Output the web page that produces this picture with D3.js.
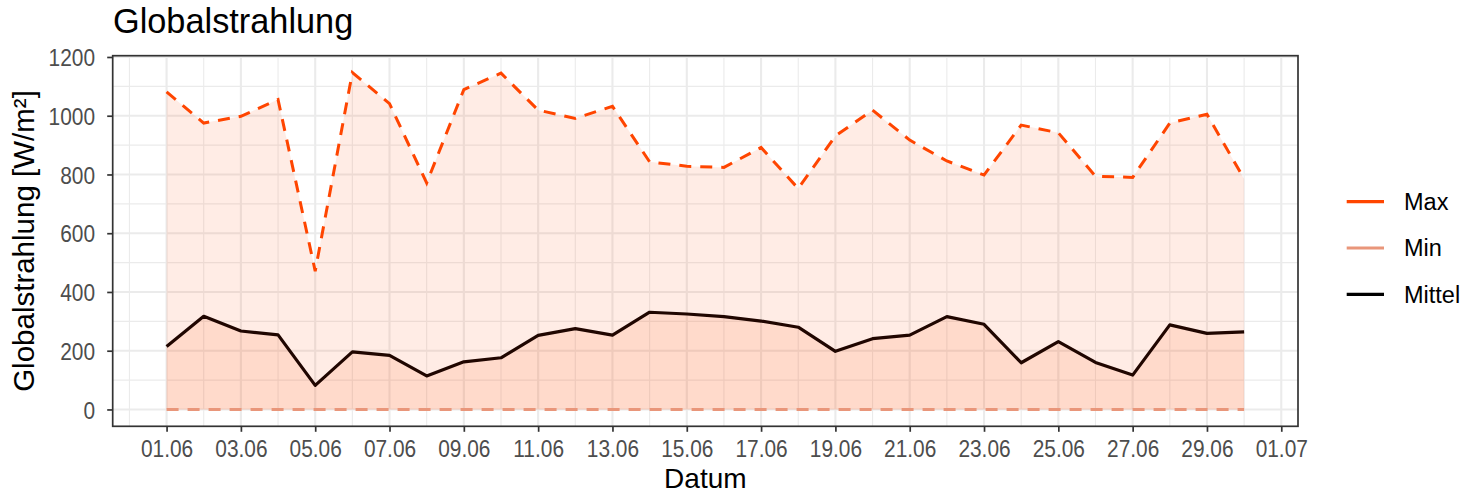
<!DOCTYPE html>
<html>
<head>
<meta charset="utf-8">
<script src="https://cdn.jsdelivr.net/npm/d3@7"></script>
<style>
  body { margin: 0; background: #fff; }
  text { font-family: "Liberation Sans", Arial, sans-serif; }
</style>
</head>
<body>
<script>
// data (June, daily values in W/m²)
var dates = ["2021-06-01", "2021-06-02", "2021-06-03", "2021-06-04", "2021-06-05",
             "2021-06-06", "2021-06-07", "2021-06-08", "2021-06-09", "2021-06-10",
             "2021-06-11", "2021-06-12", "2021-06-13", "2021-06-14", "2021-06-15",
             "2021-06-16", "2021-06-17", "2021-06-18", "2021-06-19", "2021-06-20",
             "2021-06-21", "2021-06-22", "2021-06-23", "2021-06-24", "2021-06-25",
             "2021-06-26", "2021-06-27", "2021-06-28", "2021-06-29", "2021-06-30"];
var maxVals = [1081, 975, 998, 1055, 471, 1147, 1041, 771, 1089, 1145,
               1019, 991, 1032, 843, 828, 824, 892, 752, 931, 1019,
               917, 846, 798, 968, 942, 794, 790, 975, 1005, 785];
var minVals = [0, 0, 0, 0, 0, 0, 0, 0, 0, 0,
               0, 0, 0, 0, 0, 0, 0, 0, 0, 0,
               0, 0, 0, 0, 0, 0, 0, 0, 0, 0];
var meanVals = [214, 317, 267, 254, 82, 196, 184, 114, 162, 176,
                252, 275, 253, 331, 325, 316, 301, 280, 198, 241,
                253, 316, 290, 159, 231, 160, 117, 288, 259, 264];
var yTicks = [0, 200, 400, 600, 800, 1000, 1200];
var legendLabels = ["Max", "Min", "Mittel"];

var parseDate = d3.utcParse("%Y-%m-%d");
var data = dates.map(function(d, i) {
  return {date: parseDate(d), max: maxVals[i], min: minVals[i], mean: meanVals[i]};
});

// set the dimensions of the panel
var W = 1479, H = 498;
var panel = {left: 112.7, right: 1298, top: 55.7, bottom: 426.3};

var svg = d3.select("body").append("svg")
    .attr("width", W)
    .attr("height", H);

// ggplot style 5% expansion on both axes
var xExt = d3.extent(data, function(d) { return d.date; });
var xPad = (xExt[1] - xExt[0]) * 0.05;
var x = d3.scaleUtc()
    .domain([new Date(+xExt[0] - xPad), new Date(+xExt[1] + xPad)])
    .range([panel.left, panel.right]);

var yMax = d3.max(maxVals), yMin = d3.min(minVals);
var yPad = (yMax - yMin) * 0.05;
var y = d3.scaleLinear()
    .domain([yMin - yPad, yMax + yPad])
    .range([panel.bottom, panel.top]);

// major ticks every 2 days starting on the first date, minor ones in between
var xTicks = d3.utcDay.range(xExt[0], x.domain()[1], 2);
var minorX = d3.utcDay.range(d3.utcDay.ceil(x.domain()[0]), x.domain()[1])
    .filter(function(d) { return Math.round((d - xExt[0]) / 864e5) % 2 !== 0; });
var minorY = [100, 300, 500, 700, 900, 1100];

// grid
var grid = svg.append("g");
grid.selectAll(".vminor").data(minorX).enter().append("line")
    .attr("x1", function(d) { return x(d); }).attr("x2", function(d) { return x(d); })
    .attr("y1", panel.top).attr("y2", panel.bottom)
    .attr("stroke", "#ebebeb").attr("stroke-width", 1.1);
grid.selectAll(".hminor").data(minorY).enter().append("line")
    .attr("x1", panel.left).attr("x2", panel.right)
    .attr("y1", function(d) { return y(d); }).attr("y2", function(d) { return y(d); })
    .attr("stroke", "#ebebeb").attr("stroke-width", 1.1);
grid.selectAll(".vmajor").data(xTicks).enter().append("line")
    .attr("x1", function(d) { return x(d); }).attr("x2", function(d) { return x(d); })
    .attr("y1", panel.top).attr("y2", panel.bottom)
    .attr("stroke", "#ebebeb").attr("stroke-width", 2.1);
grid.selectAll(".hmajor").data(yTicks).enter().append("line")
    .attr("x1", panel.left).attr("x2", panel.right)
    .attr("y1", function(d) { return y(d); }).attr("y2", function(d) { return y(d); })
    .attr("stroke", "#ebebeb").attr("stroke-width", 2.1);

// ribbons
var upper = d3.area()
    .x(function(d) { return x(d.date); })
    .y0(function(d) { return y(d.min); })
    .y1(function(d) { return y(d.max); });
var lower = d3.area()
    .x(function(d) { return x(d.date); })
    .y0(function(d) { return y(d.min); })
    .y1(function(d) { return y(d.mean); });

svg.append("path").datum(data).attr("d", upper)
    .attr("fill", "orangered").attr("fill-opacity", 0.1);
svg.append("path").datum(data).attr("d", lower)
    .attr("fill", "orangered").attr("fill-opacity", 0.11);

// lines
function lineFor(key) {
  return d3.line()
    .x(function(d) { return x(d.date); })
    .y(function(d) { return y(d[key]); });
}
svg.append("path").datum(data).attr("d", lineFor("min"))
    .attr("fill", "none").attr("stroke", "#e9967a").attr("stroke-width", 3)
    .attr("stroke-dasharray", "12,9");
svg.append("path").datum(data).attr("d", lineFor("max"))
    .attr("fill", "none").attr("stroke", "#ff4500").attr("stroke-width", 3)
    .attr("stroke-dasharray", "12,9");
svg.append("path").datum(data).attr("d", lineFor("mean"))
    .attr("fill", "none").attr("stroke", "#200600").attr("stroke-width", 3.2)
    .attr("stroke-linejoin", "round");

// panel border
svg.append("rect")
    .attr("x", panel.left).attr("y", panel.top)
    .attr("width", panel.right - panel.left).attr("height", panel.bottom - panel.top)
    .attr("fill", "none").attr("stroke", "#333333").attr("stroke-width", 1.7);

// axes
var xAxis = svg.append("g")
    .attr("transform", "translate(0," + panel.bottom + ")")
    .call(d3.axisBottom(x).tickValues(xTicks).tickSize(5.5).tickFormat(d3.utcFormat("%d.%m")));
var yAxis = svg.append("g")
    .attr("transform", "translate(" + panel.left + ",0)")
    .call(d3.axisLeft(y).tickValues(yTicks).tickSize(5.5).tickFormat(d3.format("d")));

[xAxis, yAxis].forEach(function(ax) {
  ax.select(".domain").remove();
  ax.selectAll(".tick line").attr("stroke", "#333333").attr("stroke-width", 1.7);
  ax.selectAll(".tick text")
      .attr("fill", "#4d4d4d")
      .style("font-size", "24px")
      .attr("transform", "scale(0.87,1)");
});
xAxis.selectAll(".tick text").attr("y", 30.4).attr("dy", 0);
yAxis.selectAll(".tick text").attr("x", -17.7 / 0.87).attr("dy", "0.36em");

// titles
svg.append("text")
    .attr("x", 113).attr("y", 33)
    .style("font-size", "34.3px")
    .text("Globalstrahlung");
svg.append("text")
    .attr("x", (panel.left + panel.right) / 2).attr("y", 488)
    .attr("text-anchor", "middle")
    .style("font-size", "28px")
    .text("Datum");
svg.append("text")
    .attr("transform", "translate(34," + (panel.top + panel.bottom) / 2 + ") rotate(-90)")
    .attr("text-anchor", "middle")
    .style("font-size", "29.5px")
    .text("Globalstrahlung [W/m²]");

// legend
var legendColors = ["#ff4500", "#e9967a", "#000000"];
var legend = svg.append("g");
legendLabels.forEach(function(lab, i) {
  var ly = 201.7 + i * 46.3;
  legend.append("line")
      .attr("x1", 1346.7).attr("x2", 1384)
      .attr("y1", ly).attr("y2", ly)
      .attr("stroke", legendColors[i]).attr("stroke-width", 3.2);
  legend.append("text")
      .attr("x", 1404).attr("y", ly)
      .attr("dy", "0.36em")
      .style("font-size", "23.5px")
      .text(lab);
});
</script>
</body>
</html>
